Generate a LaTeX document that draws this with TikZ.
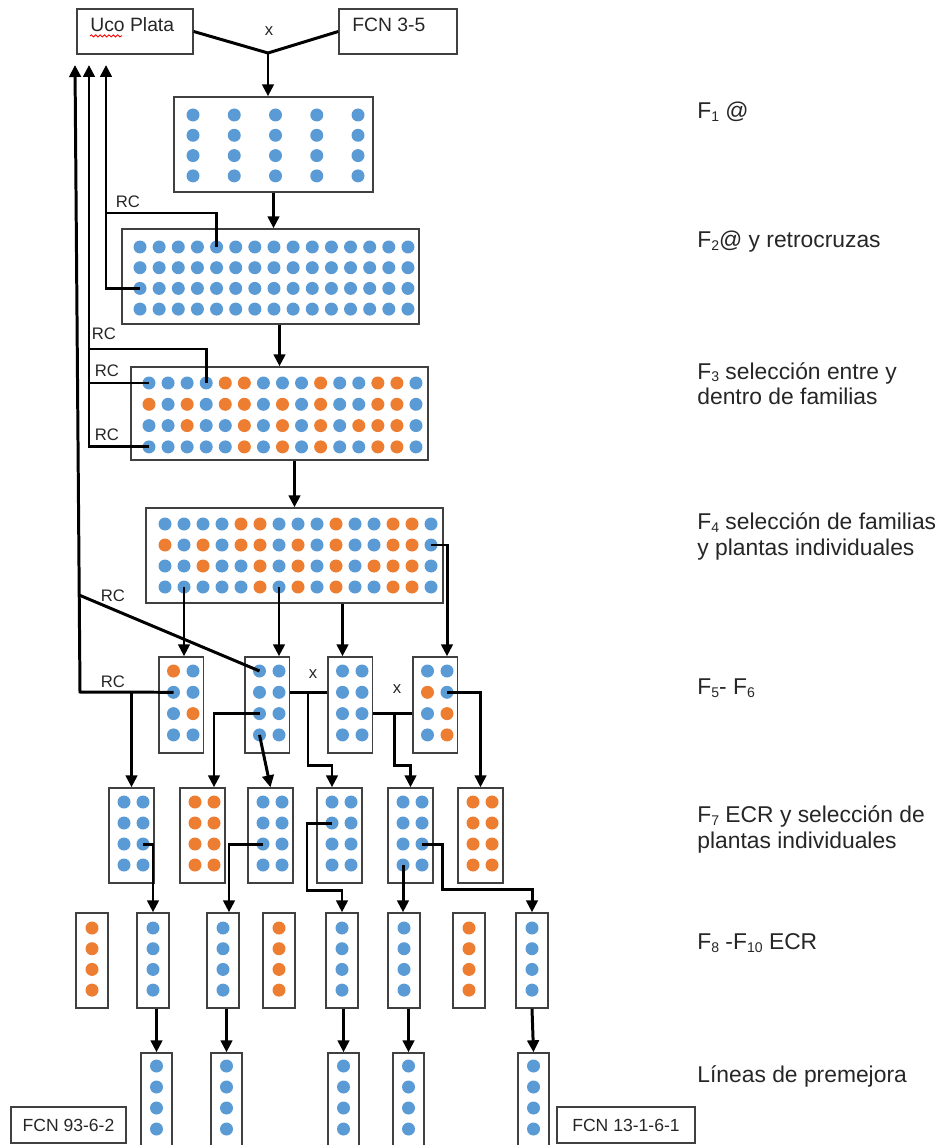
\documentclass[tikz,border=0pt]{standalone}
\usepackage{fontspec}
\setmainfont{Liberation Sans}
\usetikzlibrary{fit,calc,arrows.meta,decorations.pathmorphing}
\definecolor{dotB}{HTML}{5B9BD5}
\definecolor{dotO}{HTML}{ED7D31}
\definecolor{boxln}{HTML}{404040}
\definecolor{ink}{HTML}{262626}
\newcommand\gen[1]{\raisebox{-0.12em}{\fontsize{8}{8}\selectfont #1}}
\tikzset{
  tray/.style={draw=boxln, line width=0.8pt, inner sep=0pt},
  parent/.style={draw=boxln, line width=0.8pt, inner sep=0pt},
  bdot/.style={circle, fill=dotB, inner sep=0pt, minimum size=0.26cm},
  odot/.style={circle, fill=dotO, inner sep=0pt, minimum size=0.26cm},
  link/.style={line width=1.7pt, draw=black},
  arrow/.style={link, -{Triangle[length=2.4mm, width=2.3mm]}},
  tag/.style={font=\fontsize{9.5}{10}\selectfont, text=ink, inner sep=0pt},
  ptext/.style={font=\fontsize{11}{12}\selectfont, text=ink, inner sep=0pt},
  stage/.style={font=\fontsize{13}{14.5}\selectfont, text=ink, anchor=west,
                align=left, inner sep=0pt},
}

\begin{document}
\begin{tikzpicture}[x=0.02cm, y=-0.02cm]
  \useasboundingbox (0,0) rectangle (937,1145);

  % parents
  \node[parent, fit={(77,9) (193,54)}] (uco) {};
  \node[ptext, anchor=west] (ucot) at (90,25) {Uco Plata};
  \draw[red, line width=0.5pt, decorate,
        decoration={snake, amplitude=0.6pt, segment length=2.5pt}]
    ($(ucot.base west)+(0,4)$) -- ++(32,0);
  \node[parent, fit={(339,9) (457,54)}] (fcn) {};
  \node[ptext, anchor=west] (fcnt) at (352,25) {FCN 3-5};

  % F1
  \node[tray, fit={(174,97) (373,192)}] (f1) {};
  \foreach \c in {1,...,5}
    \foreach \r in {1,...,4}
      \node[bdot] (f1-\r-\c) at ({193+(\c-1)*41.25},{115+(\r-1)*20.3}) {};

  % F2
  \node[tray, fit={(122,229) (419,324)}] (f2) {};
  \foreach \c in {1,...,15}
    \foreach \r in {1,...,4}
      \node[bdot] (f2-\r-\c) at ({140+(\c-1)*19.14},{247+(\r-1)*20.7}) {};

  % F3 and F4 share the same colouring
  \node[tray, fit={(131,367) (428,460)}] (f3) {};
  \node[tray, fit={(146,508) (443,603)}] (f4) {};
  \foreach \r/\row in {1/{b,b,b,b,o,o,b,b,b,o,b,b,o,o,b},
                       2/{o,b,o,b,o,o,b,o,b,o,b,b,o,o,b},
                       3/{b,b,o,b,b,o,b,o,b,o,b,o,o,o,b},
                       4/{b,b,b,b,b,o,b,o,b,o,b,b,o,o,b}}
    \foreach \k [count=\c] in \row {
      \node[\k dot] (f3-\r-\c) at ({149+(\c-1)*19.07},{383+(\r-1)*21.3}) {};
      \node[\k dot] (f4-\r-\c) at ({165+(\c-1)*19},{524+(\r-1)*21}) {};
    }

  % F5-F6
  \foreach \n/\xl/\pat in {a/159/{o,b,b,b,b,o,b,b}, b/245/{b,b,b,b,b,b,b,b},
                           c/328/{b,b,b,b,b,b,b,b}, d/413/{b,b,o,b,b,o,b,o}} {
    \node[tray, fit={(\xl,657) (\xl+44.5,753)}] (f5\n) {};
    \foreach \k [count=\i from 0] in \pat {
      \pgfmathtruncatemacro\r{div(\i,2)+1}
      \pgfmathtruncatemacro\c{mod(\i,2)+1}
      \node[\k dot] (f5\n-\r-\c) at ({\xl+14.5+(\c-1)*19.5},{671+(\r-1)*21.3}) {};
    }
  }

  % F7
  \foreach \n/\xl/\k in {a/109/b, b/180/o, c/248/b, d/317/b, e/388/b, f/458/o} {
    \node[tray, fit={(\xl,788) (\xl+45,883)}] (f7\n) {};
    \foreach \c in {1,2}
      \foreach \r in {1,...,4}
        \node[\k dot] (f7\n-\r-\c) at ({\xl+15+(\c-1)*19},{802+(\r-1)*21}) {};
  }

  % F8-F10
  \foreach \n/\xl/\k in {a/76/o, b/137/b, c/207/b, d/263/o,
                         e/326/b, f/388/b, g/453/o, h/516/b} {
    \node[tray, fit={(\xl,913) (\xl+32,1008)}] (f8\n) {};
    \foreach \r in {1,...,4}
      \node[\k dot] (f8\n-\r) at ({\xl+16},{928+(\r-1)*20.7}) {};
  }

  % pre-breeding lines, open at the bottom edge
  \foreach \n/\xl in {1/141, 2/211, 3/328, 4/393, 5/518} {
    \node[tray, fit={(\xl,1053) (\xl+31,1148)}] (l\n) {};
    \foreach \r in {1,...,4}
      \node[bdot] (l\n-\r) at ({\xl+15.5},{1066+(\r-1)*21}) {};
  }
  \node[parent, ptext, font=\fontsize{10}{11}\selectfont, minimum width=2.3cm,
        minimum height=0.72cm] (fcnb) at (68.5,1125) {FCN 93-6-2};
  \node[parent, ptext, font=\fontsize{10}{11}\selectfont, minimum width=2.76cm,
        minimum height=0.72cm] (fcnc) at (626,1125) {FCN 13-1-6-1};

  % cross and selfing chain
  \coordinate (cx) at (268,53);
  \draw[link] (uco.east) -- (cx) -- (fcn.west);
  \node[tag] (cxt) at (269,31) {x};
  \draw[arrow] (cx) -- (cx |- f1.north);
  \draw[arrow] (f1.south) -- (f1.south |- f2.north);
  \draw[arrow] (f2.south -| f3.north) -- (f3.north);
  \draw[arrow] (f3.south -| f4.north) -- (f4.north);

  % back-crosses to Uco Plata
  \coordinate (ua) at (75,65);
  \coordinate (ub) at (89,65);
  \coordinate (uc) at (106,65);
  \coordinate (rc1) at (106,213);
  \coordinate (rc2) at (89,349);
  \coordinate (la) at (80,692);
  \coordinate (ld) at (79,595);
  \draw[arrow] (f2-3-1.center) -- (f2-3-1 -| uc) -- (uc);
  \draw[link] (f2-1-5.center) |- (rc1);
  \draw[arrow] (f3-4-1.center) -- (f3-4-1 -| ub) -- (ub);
  \draw[link] (f3-1-1.center) -- (f3-1-1 -| ub);
  \draw[link] (f3-1-4.center) |- (rc2);
  \draw[arrow] (f5a-2-1.center) -- (la) -- (ua);
  \draw[link] (ld) -- (f5b-1-1.center);
  \node[tag] (rct1) at (128,202) {RC};
  \node[tag] (rct2) at (104,334) {RC};
  \node[tag] (rct3) at (107,371) {RC};
  \node[tag] (rct4) at (107,435) {RC};
  \node[tag] (rct5) at (113,596) {RC};
  \node[tag] (rct6) at (113,682) {RC};

  % F4 to F5
  \draw[arrow] (f4-4-2.center) -- (f4-4-2 |- f5a.north);
  \draw[arrow] (f4-4-7.center) -- (f4-4-7 |- f5b.north);
  \draw[arrow] (f4.south -| f5c-1-1) -- (f5c-1-1 |- f5c.north);
  \draw[arrow] (f4-2-15.center) -| (f5d-1-2 |- f5d.north);

  % F5 to F7
  \coordinate (xa) at (308,692);
  \coordinate (xb) at (394,713);
  \draw[arrow] (f5a-2-1 -| f7a.north) -- (f7a.north);
  \draw[arrow] (f5b-3-1.center) -| (f7b-1-2 |- f7b.north);
  \draw[arrow] (f5b-4-1.center) -- (f7c.north);
  \draw[link] (f5b.east |- f5b-2-2) -- (f5c.west |- f5c-2-1);
  \node[tag] (xat) at (313,674) {x};
  \draw[arrow] (xa) -- ++(0,73) -| (f7d-1-1 |- f7d.north);
  \draw[link] (f5c.east |- f5c-3-2) -- (f5d.west |- f5d-3-1);
  \node[tag] (xbt) at (397,689) {x};
  \draw[arrow] (xb) -- ++(0,52) -| (f7e.north);
  \draw[arrow] (f5d-2-2.center) -| (f7f.north);

  % F7 to F8
  \draw[arrow] (f7a-3-2.center) -| (f8b.north);
  \draw[arrow] (f7c-3-1.center) -| ($(f8c.north)+(6,0)$);
  \draw[arrow] (f7d-2-1.center) -- ++(-25,0) -- ++(0,67) -| (f8e-1 |- f8e.north);
  \draw[arrow] (f7e-4-1.center) -- (f7e-4-1 |- f8f.north);
  \draw[arrow] (f7e-3-2.center) -- ++(20,0) -- ++(0,45) -| (f8h.north);

  % F8 to lines
  \draw[arrow] (f8b.south -| l1.north) -- (l1.north);
  \draw[arrow] (f8c.south -| l2.north) -- (l2.north);
  \draw[arrow] (f8e.south -| l3.north) -- (l3.north);
  \draw[arrow] (f8f.south -| l4.north) -- (l4.north);
  \draw[arrow] (f8h.south) -- (l5.north);

  % generation labels
  \node[stage] (sf1) at (697,112) {F\gen{1} @};
  \node[stage] (sf2) at (697,242) {F\gen{2}@ y retrocruzas};
  \node[stage] (sf3) at (697,383.5) {F\gen{3} selección entre y\\dentro de familias};
  \node[stage] (sf4) at (697,536.5) {F\gen{4} selección de familias\\y plantas individuales};
  \node[stage] (sf5) at (697,688) {F\gen{5}- F\gen{6}};
  \node[stage] (sf7) at (697,829.5) {F\gen{7} ECR y selección de\\plantas individuales};
  \node[stage] (sf8) at (697,943) {F\gen{8} -F\gen{10} ECR};
  \node[stage] (sfl) at (697,1076) {Líneas de premejora};
\end{tikzpicture}
\end{document}
